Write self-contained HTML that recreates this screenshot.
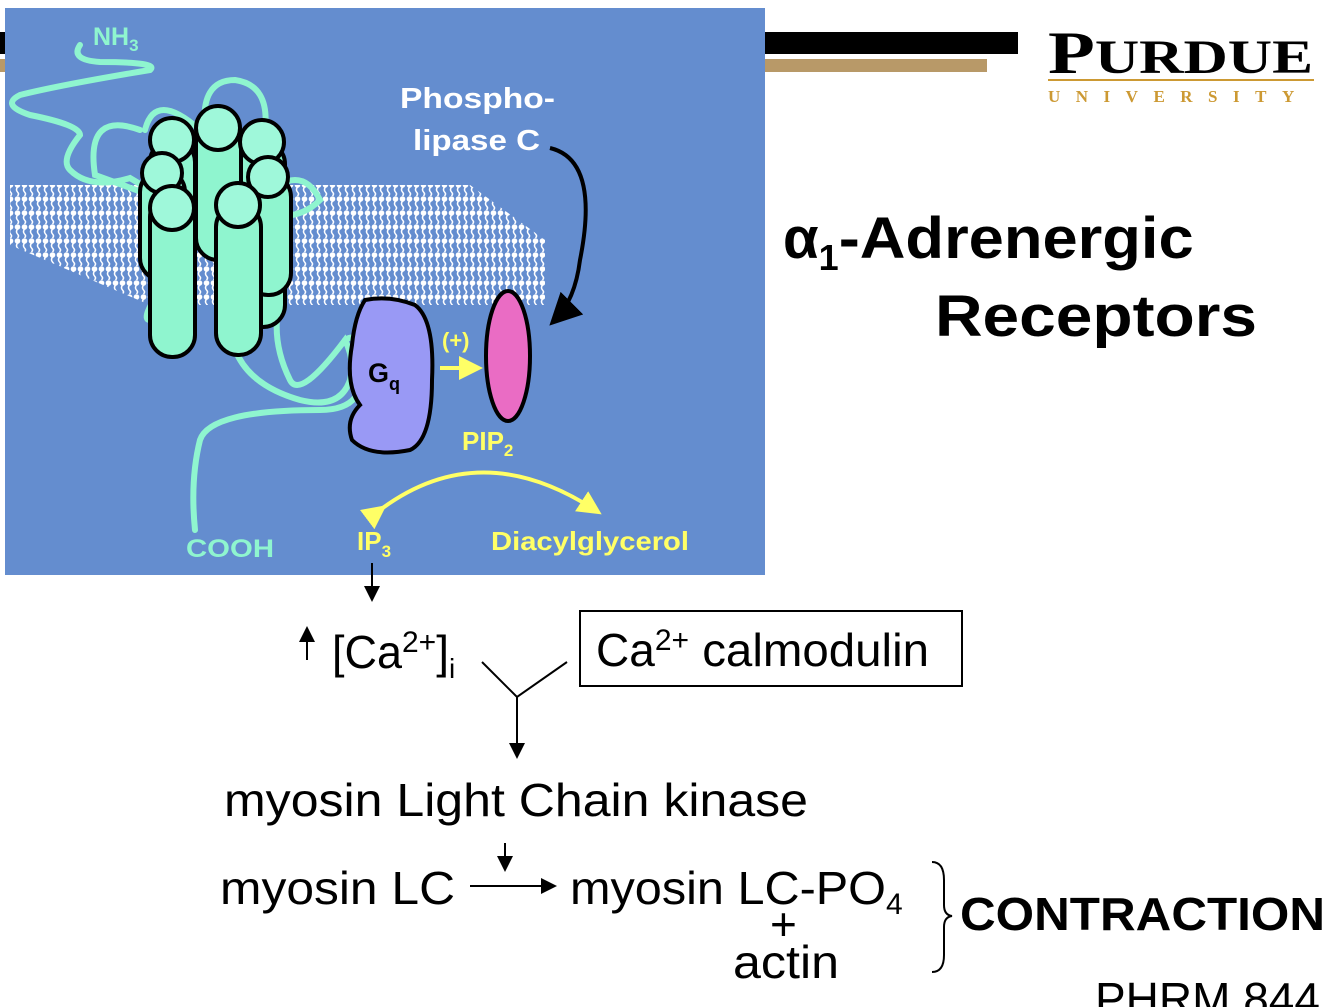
<!DOCTYPE html>
<html><head><meta charset="utf-8"><style>
body{margin:0;width:1334px;height:1007px;overflow:hidden;background:#fff;font-family:"Liberation Sans",sans-serif}
svg{position:absolute;left:0;top:0}
</style></head><body>
<svg width="1334" height="1007" viewBox="0 0 1334 1007">
<defs>
<pattern id="lip" width="7" height="14" patternUnits="userSpaceOnUse">
<circle cx="3.5" cy="3" r="2.8" fill="#fff"/>
<path d="M3.5 5 q-2 3 0 5 q2 2 0 4" stroke="#fff" stroke-width="1.5" fill="none"/>
</pattern>
<marker id="ah" markerWidth="8" markerHeight="8" refX="6" refY="4" orient="auto"><path d="M0,0 L8,4 L0,8z" fill="#000"/></marker>
<marker id="ay" markerWidth="6" markerHeight="6" refX="4" refY="3" orient="auto"><path d="M0,0 L6,3 L0,6z" fill="#ffff66"/></marker>
</defs>
<rect x="0" y="32" width="1018" height="22" fill="#000"/>
<rect x="0" y="59" width="987" height="13" fill="#b89968"/>
<rect x="5" y="8" width="760" height="567" fill="#648dcf"/>
<text x="1048" y="73" font-family="Liberation Serif,serif" font-size="60" font-weight="bold" textLength="265" lengthAdjust="spacingAndGlyphs">P<tspan font-size="48">URDUE</tspan></text>
<rect x="1048" y="79" width="266" height="2" fill="#cc9933"/>
<text x="1048" y="102" font-family="Liberation Serif,serif" font-size="17" font-weight="bold" fill="#cc9933" letter-spacing="15.5">UNIVERSITY</text>
<path d="M10 185 L470 185 L545 240 L545 305 L150 305 L10 245Z" fill="url(#lip)"/>
<g stroke="#8ff5cf" stroke-width="6" fill="none" stroke-linecap="round">
<path d="M80 45 Q70 60 100 62 Q160 62 150 70 Q60 85 20 95 Q0 105 30 115 Q80 125 80 135 Q60 160 70 170 Q90 190 130 178 L150 190"/>
<path d="M140 130 Q85 110 95 175 L150 195"/>
<path d="M145 130 Q155 90 200 130"/>
<path d="M205 130 Q200 80 235 80 Q270 85 265 130"/>
<path d="M260 200 Q300 160 320 200 Q300 220 270 215"/>
<path d="M160 290 Q140 320 150 320"/>
<path d="M230 320 Q230 380 300 400 Q340 410 350 380 Q355 360 345 340 Q300 400 290 380 Q270 340 280 300"/>
<path d="M345 340 Q360 330 360 360 Q370 410 320 410 Q210 410 200 440 Q190 480 195 530"/>
</g>
<g stroke="#000" stroke-width="4" fill="#8ff5cf">
<rect x="150" y="140" width="45" height="205" rx="22"/>
<rect x="240" y="142" width="45" height="185" rx="22"/>
<rect x="196" y="120" width="45" height="140" rx="22"/>
<rect x="140" y="170" width="45" height="110" rx="22"/>
<rect x="246" y="175" width="45" height="120" rx="22"/>
<rect x="150" y="195" width="45" height="162" rx="22"/>
<rect x="216" y="205" width="45" height="150" rx="22"/>
</g>
<g fill="#9ff8da" stroke="#000" stroke-width="4">
<circle cx="172" cy="140" r="22"/><circle cx="218" cy="128" r="22"/><circle cx="262" cy="142" r="22"/>
<circle cx="162" cy="173" r="20"/><circle cx="268" cy="177" r="20"/>
<circle cx="172" cy="208" r="22"/><circle cx="238" cy="205" r="22"/>
</g>
<path d="M365 300 Q390 295 415 305 Q435 320 432 380 Q432 440 410 450 Q370 458 352 440 Q345 420 360 405 Q345 385 352 345 Q355 315 365 300Z" fill="#9999f5" stroke="#000" stroke-width="4"/>
<text x="368" y="382" font-size="27" font-weight="bold">G<tspan font-size="18" dy="8">q</tspan></text>
<ellipse cx="508" cy="356" rx="22" ry="65" fill="#ea6cc4" stroke="#000" stroke-width="4"/>
<text x="442" y="348" font-size="22" font-weight="bold" fill="#ffff66">(+)</text>
<line x1="440" y1="368" x2="475" y2="368" stroke="#ffff66" stroke-width="4" marker-end="url(#ay)"/>
<path d="M550 148 Q600 160 580 260 Q575 300 555 320" stroke="#000" stroke-width="4" fill="none" marker-end="url(#ah)"/>
<g font-weight="bold" font-size="29" fill="#fff"><text x="400" y="108" textLength="155" lengthAdjust="spacingAndGlyphs">Phospho-</text><text x="413" y="150" textLength="127" lengthAdjust="spacingAndGlyphs">lipase C</text></g>
<g font-weight="bold" font-size="26" fill="#ffff66">
<text x="462" y="450">PIP<tspan font-size="17" dy="6">2</tspan></text>
<text x="357" y="550">IP<tspan font-size="17" dy="7">3</tspan></text>
<text x="491" y="550" textLength="198" lengthAdjust="spacingAndGlyphs">Diacylglycerol</text></g>
<path d="M380 510 Q480 435 595 510" stroke="#ffff66" stroke-width="4" fill="none" marker-start="url(#ay)" marker-end="url(#ay)"/>
<g font-weight="bold" font-size="25" fill="#8ff5cf"><text x="93" y="45">NH<tspan font-size="17" dy="6">3</tspan></text><text x="186" y="557" textLength="88" lengthAdjust="spacingAndGlyphs">COOH</text></g>
<g font-weight="bold" font-size="58"><text x="783" y="258">α<tspan font-size="36" dy="12">1</tspan><tspan dy="-12" textLength="355" lengthAdjust="spacingAndGlyphs">-Adrenergic</tspan></text><text x="935" y="336" textLength="322" lengthAdjust="spacingAndGlyphs">Receptors</text></g>
<g stroke="#000" stroke-width="2" fill="none">
<line x1="372" y1="563" x2="372" y2="598" marker-end="url(#ah)"/>
<line x1="307" y1="660" x2="307" y2="630" marker-end="url(#ah)"/>
<polyline points="482,662 517,697 567,662"/>
<line x1="517" y1="697" x2="517" y2="755" marker-end="url(#ah)"/>
<line x1="505" y1="843" x2="505" y2="868" marker-end="url(#ah)"/>
<line x1="470" y1="886" x2="553" y2="886" marker-end="url(#ah)"/>
<rect x="580" y="611" width="382" height="75"/>
<path d="M932 862 Q944 862 944 880 L944 905 Q944 915 952 916 Q944 917 944 927 L944 955 Q944 972 932 972"/>
</g>
<g font-size="46">
<text x="332" y="668"><tspan textLength="70" lengthAdjust="spacingAndGlyphs">[Ca</tspan><tspan font-size="30" dy="-16">2+</tspan><tspan dy="16">]</tspan><tspan font-size="28" dy="10">i</tspan></text>
<text x="596" y="666">Ca<tspan font-size="30" dy="-16">2+</tspan><tspan dy="16" textLength="240" lengthAdjust="spacingAndGlyphs"> calmodulin</tspan></text>
<text x="224" y="816" textLength="584" lengthAdjust="spacingAndGlyphs">myosin Light Chain kinase</text>
<text x="220" y="904" textLength="235" lengthAdjust="spacingAndGlyphs">myosin LC</text>
<text x="570" y="904"><tspan textLength="316" lengthAdjust="spacingAndGlyphs">myosin LC-PO</tspan><tspan font-size="30" dy="10">4</tspan></text>
<text x="770" y="940">+</text>
<text x="733" y="978" textLength="106" lengthAdjust="spacingAndGlyphs">actin</text>
<text x="1095" y="1015">PHRM 844</text>
</g>
<text x="960" y="930" font-size="46" font-weight="bold" textLength="365" lengthAdjust="spacingAndGlyphs">CONTRACTION</text>
</svg>
</body></html>
